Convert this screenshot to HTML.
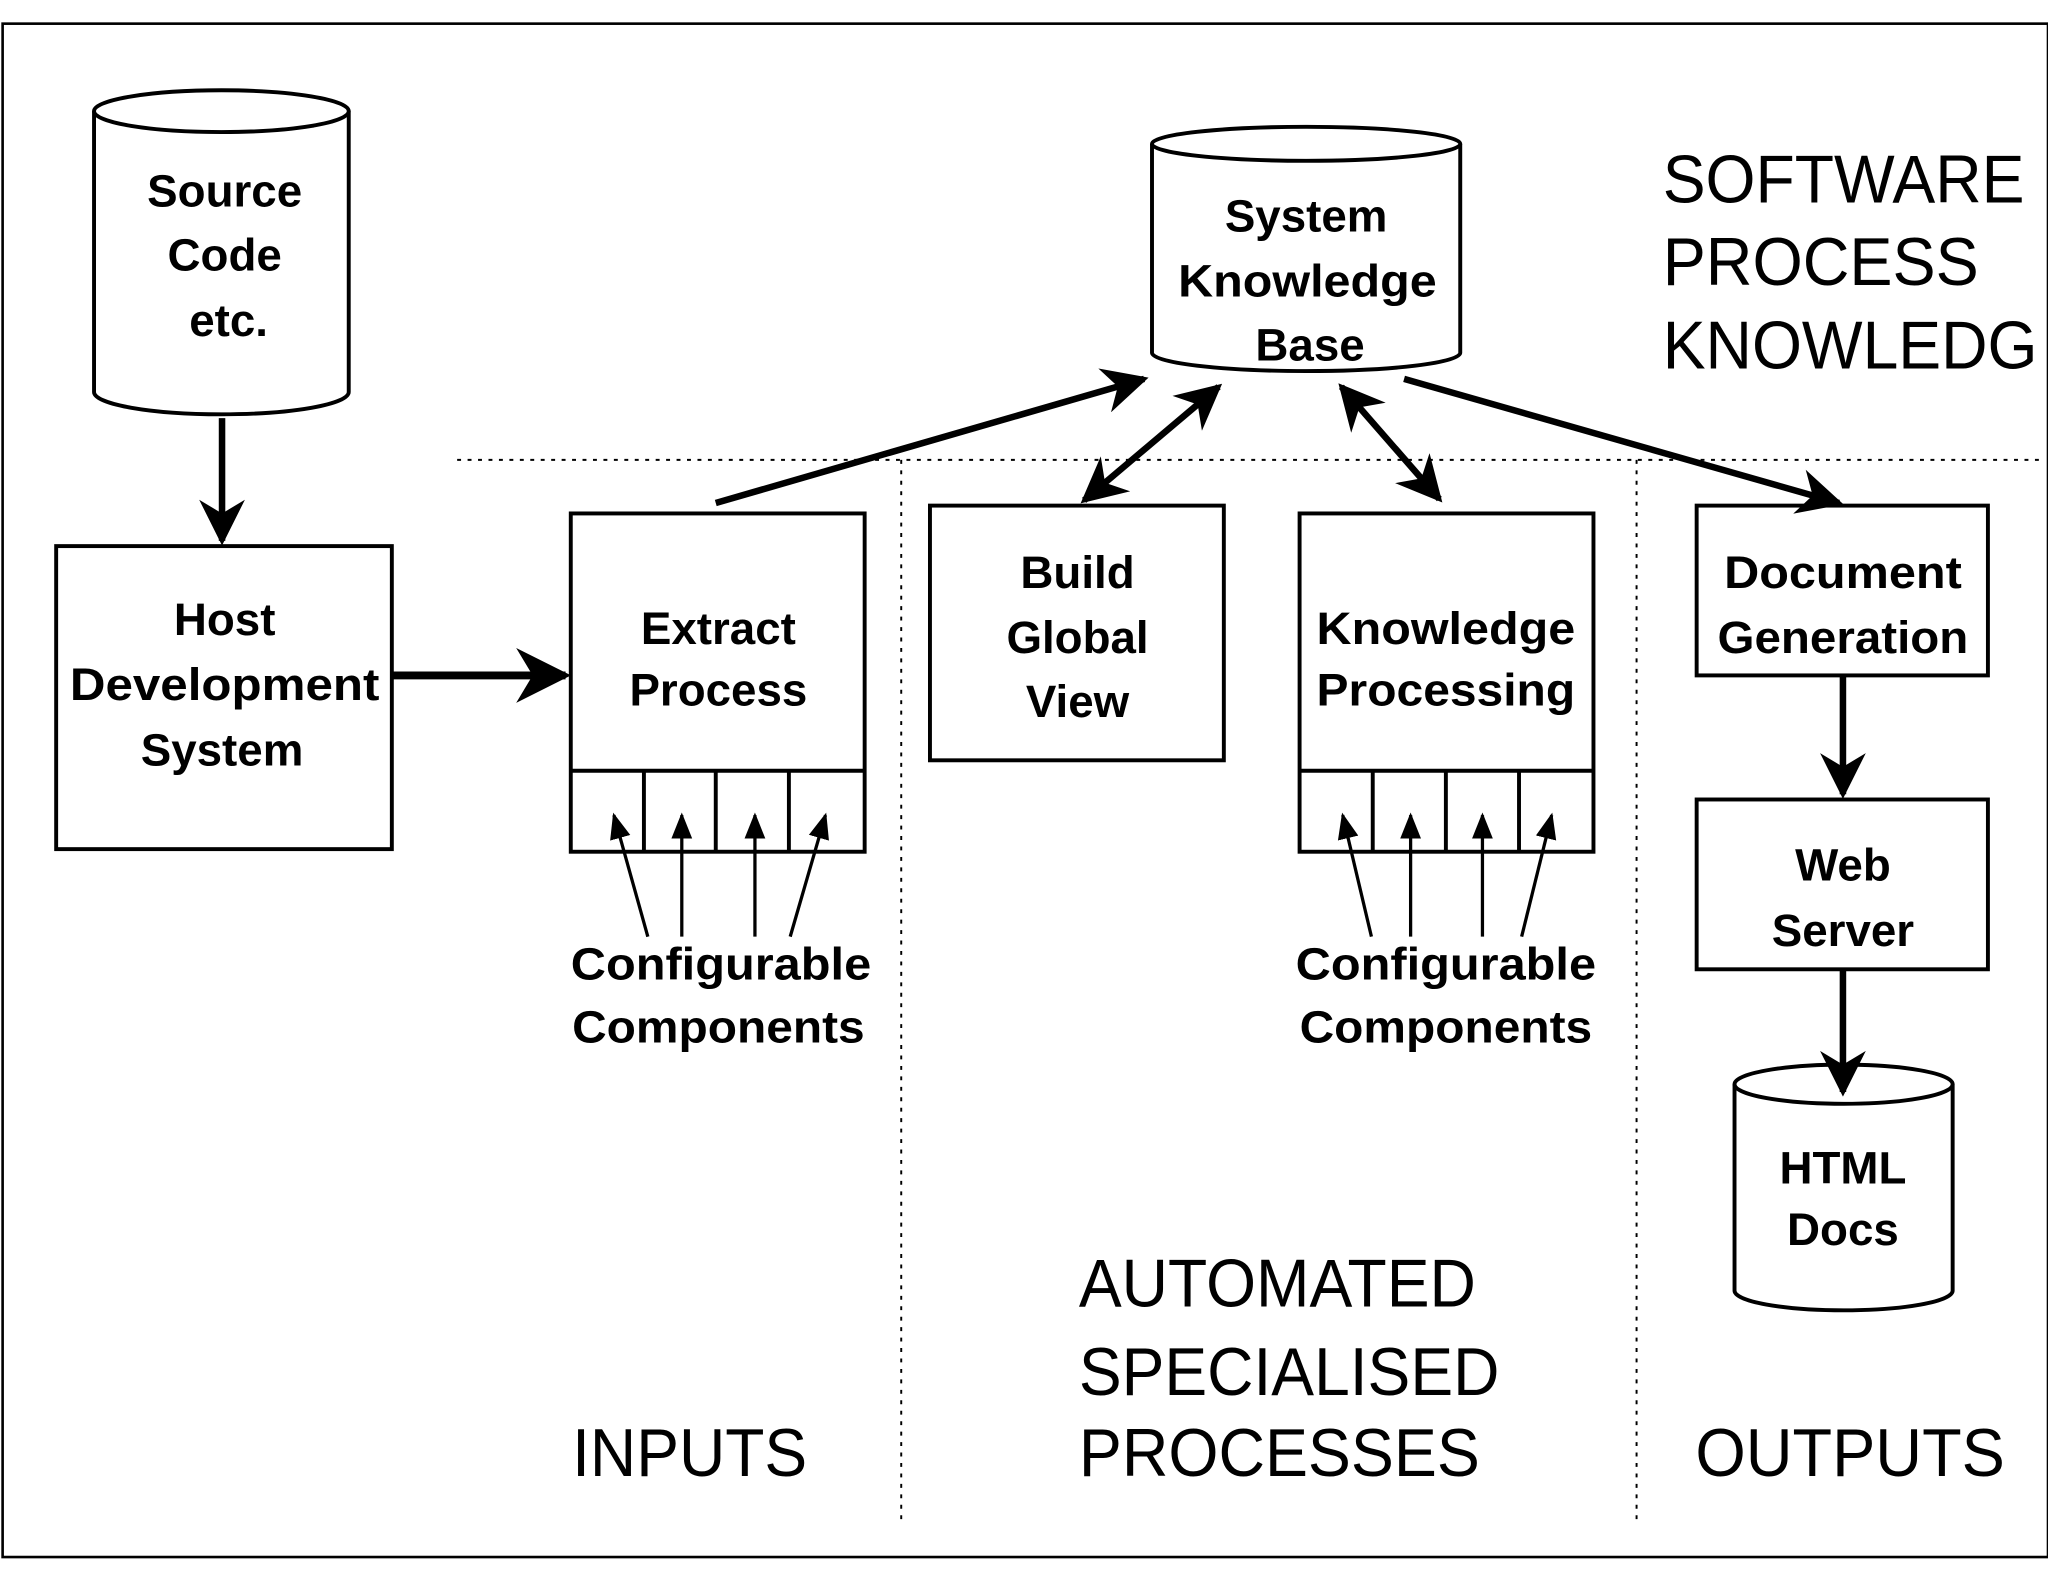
<!DOCTYPE html>
<html><head><meta charset="utf-8"><style>
html,body{margin:0;padding:0;background:#fff;width:2048px;height:1582px;overflow:hidden}
svg text{font-family:"Liberation Sans",sans-serif;fill:#000}
.b{font-weight:bold;font-size:35px;text-anchor:middle}
.l{font-size:52px;}
</style></head><body>
<svg width="2048" height="1582" viewBox="0 0 1568 1211" xmlns="http://www.w3.org/2000/svg">
<defs>
<marker id="a" viewBox="0 0 10 10" refX="9" refY="5" markerWidth="7" markerHeight="7" orient="auto-start-reverse"><path d="M0,0 L10,5 L0,10 L3,5 z" fill="#000"/></marker>
<marker id="s" viewBox="0 0 10 10" refX="9" refY="5" markerWidth="8" markerHeight="8" orient="auto"><path d="M0,1 L10,5 L0,9 z" fill="#000"/></marker>
</defs>
<rect x="0" y="0" width="1568" height="1211" fill="#fff"/>
<rect x="2" y="18" width="1566" height="1174" fill="none" stroke="#000" stroke-width="2"/>
<g stroke="#000" stroke-width="1.5" stroke-dasharray="3,5" fill="none">
<line x1="350" y1="352" x2="1562" y2="352"/>
<line x1="690" y1="352" x2="690" y2="1165"/>
<line x1="1253" y1="352" x2="1253" y2="1165"/>
</g>
<g fill="#fff" stroke="#000" stroke-width="3">
<path d="M72,85 L72,300 A97,17 0 0 0 267,300 L267,85"/>
<ellipse cx="169.5" cy="85" rx="97.5" ry="16"/>
<path d="M882,110 L882,270 A118,14 0 0 0 1118,270 L1118,110"/>
<ellipse cx="1000" cy="110" rx="118" ry="13"/>
<path d="M1328,830 L1328,988 A83,15 0 0 0 1495,988 L1495,830"/>
<ellipse cx="1411.5" cy="830" rx="83.5" ry="15"/>
<rect x="43" y="418" width="257" height="232"/>
<rect x="437" y="393" width="225" height="259"/>
<rect x="712" y="387" width="225" height="195"/>
<rect x="995" y="393" width="225" height="259"/>
<rect x="1299" y="387" width="223" height="130"/>
<rect x="1299" y="612" width="223" height="130"/>
</g>
<g stroke="#000" stroke-width="3">
<line x1="437" y1="590" x2="662" y2="590"/>
<line x1="493" y1="590" x2="493" y2="652"/><line x1="548" y1="590" x2="548" y2="652"/><line x1="604" y1="590" x2="604" y2="652"/>
<line x1="995" y1="590" x2="1220" y2="590"/>
<line x1="1051" y1="590" x2="1051" y2="652"/><line x1="1107" y1="590" x2="1107" y2="652"/><line x1="1163" y1="590" x2="1163" y2="652"/>
</g>
<g stroke="#000" stroke-width="2.5" marker-end="url(#s)">
<line x1="496" y1="717" x2="470" y2="624"/><line x1="522" y1="717" x2="522" y2="624"/><line x1="578" y1="717" x2="578" y2="624"/><line x1="605" y1="717" x2="632" y2="624"/>
<line x1="1050" y1="717" x2="1028" y2="624"/><line x1="1080" y1="717" x2="1080" y2="624"/><line x1="1135" y1="717" x2="1135" y2="624"/><line x1="1165" y1="717" x2="1188" y2="624"/>
</g>
<g stroke="#000" stroke-width="5" fill="none">
<line x1="170" y1="320" x2="170" y2="414" marker-end="url(#a)"/>
<line x1="300" y1="517" x2="433" y2="517" marker-end="url(#a)" stroke-width="6"/>
<line x1="548" y1="385" x2="876" y2="290" marker-end="url(#a)"/>
<line x1="830" y1="383" x2="933" y2="296" marker-end="url(#a)" marker-start="url(#a)"/>
<line x1="1027" y1="296" x2="1102" y2="382" marker-end="url(#a)" marker-start="url(#a)"/>
<line x1="1075" y1="290" x2="1408" y2="385" marker-end="url(#a)"/>
<line x1="1411" y1="517" x2="1411" y2="608" marker-end="url(#a)"/>
<line x1="1411" y1="742" x2="1411" y2="836" marker-end="url(#a)"/>
</g>
<text class="b" x="172" y="158">Source</text><text class="b" x="172" y="207">Code</text><text class="b" x="175" y="257">etc.</text>
<text class="b" x="172" y="486">Host</text><text class="b" x="172" y="536" textLength="237" lengthAdjust="spacingAndGlyphs">Development</text><text class="b" x="170" y="586">System</text>
<text class="b" x="550" y="493">Extract</text><text class="b" x="550" y="540">Process</text>
<text class="b" x="552" y="750" textLength="230" lengthAdjust="spacingAndGlyphs">Configurable</text><text class="b" x="550" y="798" textLength="224" lengthAdjust="spacingAndGlyphs">Components</text>
<text class="b" x="1000" y="177">System</text><text class="b" x="1001" y="227" textLength="198" lengthAdjust="spacingAndGlyphs">Knowledge</text><text class="b" x="1003" y="276">Base</text>
<text class="b" x="825" y="450">Build</text><text class="b" x="825" y="500">Global</text><text class="b" x="825" y="549">View</text>
<text class="b" x="1107" y="493" textLength="198" lengthAdjust="spacingAndGlyphs">Knowledge</text><text class="b" x="1107" y="540" textLength="198" lengthAdjust="spacingAndGlyphs">Processing</text>
<text class="b" x="1107" y="750" textLength="230" lengthAdjust="spacingAndGlyphs">Configurable</text><text class="b" x="1107" y="798" textLength="224" lengthAdjust="spacingAndGlyphs">Components</text>
<text class="b" x="1411" y="450" textLength="182" lengthAdjust="spacingAndGlyphs">Document</text><text class="b" x="1411" y="500" textLength="192" lengthAdjust="spacingAndGlyphs">Generation</text>
<text class="b" x="1411" y="674">Web</text><text class="b" x="1411" y="724">Server</text>
<text class="b" x="1411" y="906">HTML</text><text class="b" x="1411" y="953">Docs</text>
<text class="l" x="1273" y="155" textLength="277" lengthAdjust="spacingAndGlyphs">SOFTWARE</text>
<text class="l" x="1273" y="218" textLength="242" lengthAdjust="spacingAndGlyphs">PROCESS</text>
<text class="l" x="1273" y="282" textLength="287" lengthAdjust="spacingAndGlyphs">KNOWLEDG</text>
<text class="l" x="438" y="1130" textLength="180" lengthAdjust="spacingAndGlyphs">INPUTS</text>
<text class="l" x="826" y="1000" textLength="304" lengthAdjust="spacingAndGlyphs">AUTOMATED</text>
<text class="l" x="826" y="1068" textLength="322" lengthAdjust="spacingAndGlyphs">SPECIALISED</text>
<text class="l" x="826" y="1130" textLength="307" lengthAdjust="spacingAndGlyphs">PROCESSES</text>
<text class="l" x="1298" y="1130" textLength="237" lengthAdjust="spacingAndGlyphs">OUTPUTS</text>
</svg>
</body></html>
